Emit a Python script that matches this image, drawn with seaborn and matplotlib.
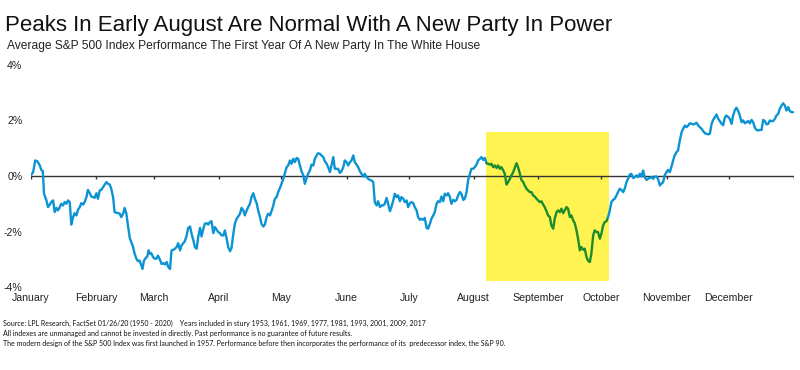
import matplotlib
matplotlib.use('Agg')
import matplotlib.pyplot as plt
from matplotlib.patches import Rectangle
import seaborn as sns
import pandas as pd

# Trading day of the year (0 = first session) and average return in %
trading_day = [
    0.0, 0.8, 1.5, 2.2, 3.0, 3.5, 4.0, 4.4, 5.2, 5.7,
    6.3, 6.8, 7.4, 7.9, 8.5, 9.0, 9.6, 10.1, 10.7, 11.2,
    11.8, 12.3, 12.9, 13.4, 14.0, 14.5, 15.1, 15.6, 16.2, 16.7,
    17.3, 17.8, 18.4, 18.9, 19.5, 20.0, 20.6, 21.1, 21.7, 22.2,
    22.8, 23.3, 23.9, 24.4, 25.0, 25.5, 26.1, 26.6, 27.2, 27.7,
    28.3, 28.8, 29.4, 29.9, 30.5, 31.0, 31.6, 32.1, 32.7, 33.2,
    33.8, 34.3, 34.9, 35.4, 36.0, 36.5, 36.9, 37.4, 38.0, 38.5,
    38.9, 39.4, 39.8, 40.4, 40.9, 41.5, 42.0, 42.7, 43.2, 43.8,
    44.3, 44.9, 45.4, 46.0, 46.5, 47.1, 47.6, 48.2, 48.7, 49.3,
    49.8, 50.4, 50.9, 51.5, 52.0, 52.6, 53.1, 53.7, 54.2, 54.8,
    55.3, 55.9, 56.4, 57.0, 57.5, 58.1, 58.6, 59.2, 59.7, 60.3,
    60.8, 61.4, 61.9, 62.5, 63.0, 63.6, 64.1, 64.7, 65.2, 65.8,
    66.3, 66.9, 67.4, 68.0, 68.5, 69.1, 69.6, 70.2, 70.7, 71.3,
    71.8, 72.4, 72.9, 73.5, 74.0, 74.6, 75.1, 75.7, 76.2, 76.8,
    77.3, 77.9, 78.4, 79.0, 79.5, 80.1, 80.6, 81.2, 81.7, 82.3,
    82.8, 83.4, 84.5, 85.0, 85.6, 86.1, 86.7, 87.2, 87.8, 88.3,
    88.9, 89.4, 90.0, 90.5, 91.1, 91.6, 92.2, 92.7, 93.3, 93.8,
    94.4, 94.9, 95.5, 96.0, 96.6, 97.1, 97.7, 98.2, 98.8, 99.3,
    99.9, 100.4, 101.0, 101.5, 102.1, 102.6, 103.2, 103.7, 104.3, 104.8,
    105.4, 105.9, 106.5, 107.0, 107.6, 108.1, 108.7, 109.2, 109.8, 110.3,
    110.9, 111.4, 112.0, 112.5, 113.1, 113.6, 114.2, 114.7, 115.3, 115.8,
    116.4, 116.9, 117.5, 118.0, 118.6, 119.1, 119.7, 120.2, 120.8, 121.3,
    121.9, 122.4, 123.0, 123.5, 124.1, 124.6, 125.2, 125.7, 126.3, 126.8,
    127.4, 127.9, 128.5, 129.0, 129.6, 130.1, 130.7, 131.2, 131.8, 132.3,
    132.9, 133.4, 134.0, 134.5, 135.1, 135.6, 136.2, 136.7, 137.3, 137.8,
    138.4, 138.9, 139.5, 140.0, 140.6, 141.1, 141.7, 142.2, 142.8, 143.3,
    143.9, 144.4, 145.0, 145.5, 146.1, 146.6, 147.2, 147.7, 148.3, 148.8,
    149.4, 149.9, 150.5, 151.0, 151.6, 152.1, 152.7, 153.2, 153.8, 154.3,
    154.9, 155.4, 156.0, 156.5, 157.1, 157.6, 158.2, 158.7, 159.3, 159.8,
    160.4, 160.9, 161.5, 162.0, 162.6, 163.1, 163.7, 164.2, 164.8, 165.3,
    165.9, 166.4, 167.0, 167.5, 168.1, 168.6, 169.2, 169.7, 170.3, 170.8,
    171.4, 171.9, 172.5, 173.0, 173.6, 174.1, 174.7, 175.2, 175.8, 176.3,
    176.9, 177.4, 178.0, 178.5, 179.1, 179.6, 180.2, 180.7, 181.3, 181.8,
    182.4, 182.9, 183.5, 184.0, 184.6, 185.1, 185.7, 186.2, 186.8, 187.3,
    187.9, 188.4, 189.0, 189.5, 190.1, 190.6, 191.2, 191.7, 192.3, 192.8,
    193.4, 193.9, 194.5, 195.0, 195.6, 196.1, 196.7, 197.2, 197.8, 198.3,
    198.9, 199.4, 200.0, 200.5, 201.1, 201.6, 202.2, 202.7, 203.3, 203.8,
    204.4, 204.9, 205.5, 206.0, 206.6, 207.1, 207.7, 208.2, 208.8, 209.3,
    209.9, 210.4, 211.0, 211.5, 212.1, 212.6, 213.2, 213.7, 214.3, 214.9,
    215.4, 216.0, 216.5, 217.1, 217.6, 218.2, 218.7, 219.3, 219.8, 220.4,
    220.9, 221.5, 222.0, 222.6, 223.1, 223.7, 224.2, 224.8, 225.3, 225.9,
    226.4, 227.0, 227.5, 228.1, 228.6, 229.2, 229.7, 230.3, 230.8, 231.4,
    231.9, 232.5, 233.0, 233.6, 234.1, 234.7, 235.2, 235.8, 236.3, 236.9,
    237.4, 238.0, 238.5, 239.1, 239.6, 240.2, 240.7, 241.3, 241.8, 242.4,
    242.9, 243.5, 244.0, 244.6, 245.1, 245.7, 246.2, 246.8, 247.3, 247.9,
    248.4, 249.0, 249.5, 250.1, 250.6, 251.2, 251.7,
]
avg_return = [
    0.02, 0.14, 0.56, 0.53, 0.38, 0.22, 0.17, -0.64, -0.88, -1.12,
    -1.03, -0.94, -0.88, -1.30, -1.15, -1.24, -1.12, -1.00, -1.06, -0.94,
    -1.00, -0.88, -0.94, -1.75, -1.48, -1.34, -1.42, -1.22, -1.12, -0.98,
    -1.03, -0.94, -0.76, -0.50, -0.62, -0.74, -0.76, -0.79, -0.62, -0.82,
    -0.52, -0.50, -0.40, -0.31, -0.22, -0.28, -0.31, -0.46, -0.76, -1.30,
    -1.33, -1.33, -1.36, -1.48, -1.36, -1.15, -1.36, -1.78, -2.23, -2.38,
    -2.56, -2.80, -2.98, -3.07, -3.05, -3.22, -3.35, -3.05, -2.95, -2.90,
    -2.68, -2.80, -2.78, -2.92, -2.98, -2.98, -2.87, -3.02, -3.17, -3.14,
    -3.19, -3.10, -3.28, -3.35, -2.68, -2.66, -2.62, -2.56, -2.42, -2.68,
    -2.50, -2.42, -2.35, -2.14, -1.87, -1.82, -2.08, -2.32, -2.56, -2.62,
    -2.20, -1.87, -2.18, -1.90, -1.72, -1.70, -1.75, -1.66, -1.63, -2.06,
    -1.84, -1.94, -2.02, -2.06, -2.14, -2.14, -1.96, -2.26, -2.56, -2.71,
    -2.59, -2.08, -1.72, -1.54, -1.46, -1.36, -1.15, -1.24, -1.42, -1.24,
    -1.12, -1.00, -0.76, -0.62, -0.82, -0.98, -1.24, -1.48, -1.72, -1.82,
    -1.75, -1.48, -1.36, -1.42, -1.27, -1.06, -0.82, -0.76, -0.58, -0.43,
    -0.28, -0.10, 0.32, 0.38, 0.56, 0.44, 0.62, 0.50, 0.65, 0.62,
    0.38, 0.17, 0.02, -0.28, -0.07, 0.08, 0.20, 0.41, 0.38, 0.62,
    0.74, 0.82, 0.80, 0.74, 0.68, 0.53, 0.44, 0.32, 0.14, 0.38,
    0.68, 0.26, 0.26, 0.26, 0.11, 0.17, 0.32, 0.56, 0.50, 0.38,
    0.50, 0.56, 0.74, 0.50, 0.41, 0.32, 0.17, 0.08, -0.02, 0.08,
    -0.04, -0.10, -0.14, -0.16, -0.22, -0.94, -1.06, -0.91, -1.12, -1.06,
    -1.06, -1.00, -0.79, -1.00, -1.27, -1.12, -0.88, -0.64, -0.76, -0.70,
    -0.91, -0.76, -0.82, -0.94, -0.88, -1.12, -0.98, -0.94, -0.98, -1.12,
    -1.24, -1.48, -1.58, -1.54, -1.58, -1.51, -1.87, -1.90, -1.72, -1.54,
    -1.42, -1.30, -1.00, -0.91, -0.94, -0.74, -0.91, -0.64, -0.70, -0.62,
    -0.76, -1.00, -0.86, -0.91, -0.86, -0.70, -0.58, -0.64, -0.86, -0.82,
    -0.58, -0.16, 0.08, 0.26, 0.26, 0.32, 0.41, 0.56, 0.62, 0.68,
    0.58, 0.65, 0.46, 0.44, 0.41, 0.44, 0.32, 0.38, 0.29, 0.38,
    0.26, 0.32, 0.20, 0.08, -0.31, -0.22, -0.10, 0.02, 0.14, 0.29,
    0.46, 0.32, 0.08, -0.14, -0.22, -0.34, -0.46, -0.52, -0.58, -0.58,
    -0.70, -0.74, -0.82, -0.88, -0.94, -0.91, -1.03, -1.12, -1.27, -1.42,
    -1.48, -1.78, -1.90, -1.54, -1.30, -1.24, -1.30, -1.18, -1.34, -1.24,
    -1.12, -1.18, -1.48, -1.42, -1.60, -1.70, -1.96, -2.26, -2.68, -2.56,
    -2.66, -2.62, -2.92, -3.05, -3.10, -2.80, -2.14, -1.96, -2.02, -2.02,
    -2.26, -2.08, -1.78, -1.66, -1.63, -1.48, -1.24, -0.94, -0.86, -0.82,
    -0.70, -0.58, -0.46, -0.50, -0.58, -0.46, -0.22, -0.10, 0.05, 0.08,
    -0.07, -0.04, 0.02, -0.04, 0.08, -0.02, 0.20, -0.04, -0.14, -0.10,
    -0.07, -0.04, -0.10, -0.02, -0.02, -0.10, -0.34, -0.28, -0.22, 0.02,
    0.14, 0.22, 0.14, 0.32, 0.56, 0.74, 0.86, 0.92, 1.28, 1.58,
    1.70, 1.82, 1.76, 1.82, 1.90, 1.88, 1.86, 1.88, 1.92, 1.82,
    1.76, 1.70, 1.62, 1.54, 1.52, 1.50, 1.52, 1.88, 2.02, 2.12,
    2.22, 2.06, 1.98, 1.88, 1.83, 2.12, 2.18, 2.12, 2.06, 1.88,
    2.18, 2.38, 2.46, 2.34, 2.18, 1.94, 2.00, 1.90, 1.94, 1.98,
    1.90, 2.02, 1.94, 1.74, 1.66, 1.64, 1.66, 1.66, 2.02, 1.98,
    1.86, 1.88, 2.00, 1.98, 1.98, 2.06, 2.18, 2.24, 2.42, 2.54,
    2.62, 2.54, 2.36, 2.48, 2.34, 2.30, 2.30,
]

months = ['January', 'February', 'March', 'April', 'May', 'June', 'July',
          'August', 'September', 'October', 'November', 'December']
# first trading day of every month, last entry = end of year
month_start = [0, 21.5, 40.7, 62.1, 82.8, 104.3, 124.9, 146.2, 167.5, 188.4, 210.0, 230.5, 252]
y_ticks = [-4, -2, 0, 2, 4]
y_labels = ['-4%', '-2%', '0%', '2%', '4%']

# highlighted window (August peak -> October low)
hl_start, hl_end = 150.3, 191.0
hl_low, hl_high = -3.78, 1.59

title = 'Peaks In Early August Are Normal With A New Party In Power'
subtitle = 'Average S&P 500 Index Performance The First Year Of A New Party In The White House'
notes = [
    'Source: LPL Research, FactSet 01/26/20 (1950 - 2020)    Years included in stury 1953, 1961, 1969, 1977, 1981, 1993, 2001, 2009, 2017',
    'All indexes are unmanaged and cannot be invested in directly. Past performance is no guarantee of future results.',
    'The modern design of the S&P 500 Index was first launched in 1957. Performance before then incorporates the performance of its  predecessor index, the S&P 90.',
]

BLUE = '#0b93d3'
GREEN = '#1a8c2c'
YELLOW = '#fff352'

sns.set_style('white')
plt.rcParams['font.family'] = ['Liberation Sans', 'DejaVu Sans']

df = pd.DataFrame({'day': trading_day, 'pct': avg_return})
i0 = df.index[df['day'] >= hl_start][0]
i1 = df.index[df['day'] <= hl_end][-1]

fig = plt.figure(figsize=(8, 3.7), dpi=100)
ax = fig.add_axes([30.7 / 800, 1 - 287 / 370, (794 - 30.7) / 800, (287 - 65) / 370])

ax.add_patch(Rectangle((hl_start, hl_low), hl_end - hl_start, hl_high - hl_low,
                       facecolor=YELLOW, edgecolor='none', zorder=0))
ax.axhline(0, color='#333333', lw=1, zorder=1)
ax.vlines(month_start, -0.1, 0, color='#333333', lw=1, zorder=1)

sns.lineplot(data=df.iloc[:i0 + 1], x='day', y='pct', color=BLUE, lw=1.7, estimator=None, ax=ax, zorder=3)
sns.lineplot(data=df.iloc[i0:i1 + 1], x='day', y='pct', color=GREEN, lw=1.7, estimator=None, ax=ax, zorder=3)
sns.lineplot(data=df.iloc[i1:], x='day', y='pct', color=BLUE, lw=1.7, estimator=None, ax=ax, zorder=3)

ax.set_xlim(0, 252)
ax.set_ylim(-4, 4)
ax.set_xticks(month_start[:12])
ax.set_xticklabels(months)
ax.set_yticks(y_ticks)
ax.set_yticklabels(y_labels)
ax.tick_params(axis='x', length=0, pad=4, labelsize=7.6, labelcolor='#222222')
ax.tick_params(axis='y', length=0, pad=6, labelsize=7.6, labelcolor='#222222')
ax.set_xlabel('')
ax.set_ylabel('')
sns.despine(ax=ax, left=True, bottom=True)

fig.text(5 / 800, 1 - 31 / 370, title, fontsize=16, va='baseline', color='#111111')
fig.text(7 / 800, 1 - 49 / 370, subtitle, fontsize=8.65, va='baseline', color='#222222')
for k, line in enumerate(notes):
    fig.text(3 / 800, 1 - (326 + 10 * k) / 370, line, fontsize=5.0, va='baseline',
             color='#111111', family=['Lato', 'DejaVu Sans'])

fig.savefig('out.png', dpi=100)
